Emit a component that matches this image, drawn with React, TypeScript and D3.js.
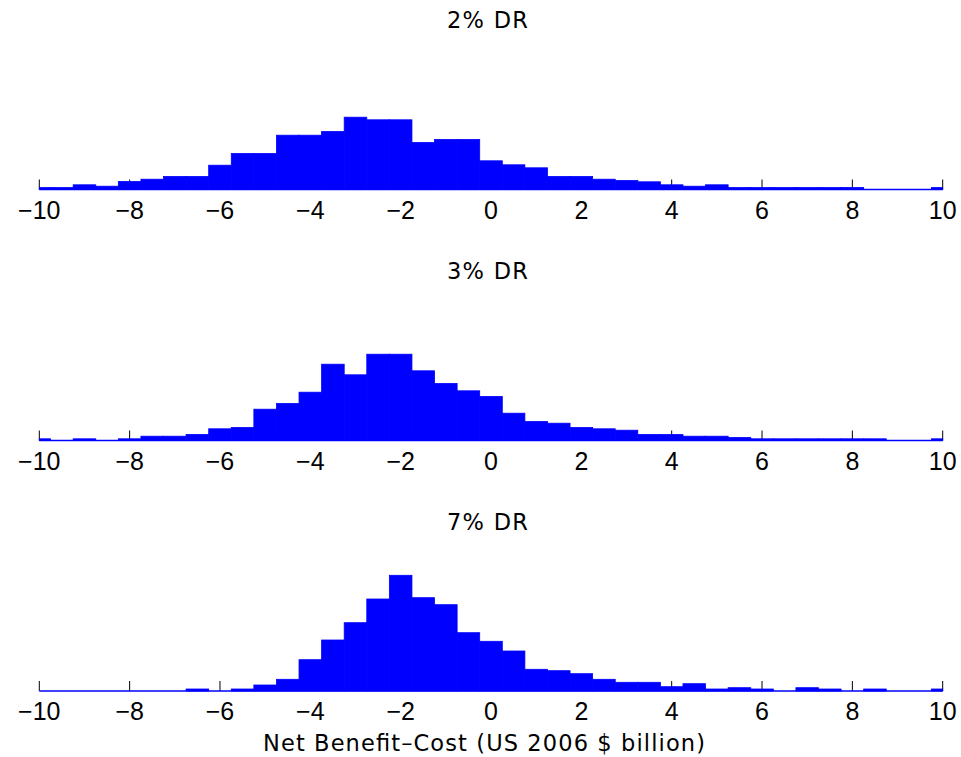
import React from 'react';
import * as d3 from 'd3';

const BIN_CENTERS = [
  -10, -9.5, -9, -8.5, -8, -7.5, -7, -6.5, -6, -5.5,
  -5, -4.5, -4, -3.5, -3, -2.5, -2, -1.5, -1, -0.5,
  0, 0.5, 1, 1.5, 2, 2.5, 3, 3.5, 4, 4.5,
  5, 5.5, 6, 6.5, 7, 7.5, 8, 8.5, 9, 9.5, 10,
];

const DR2_COUNTS = [
  2, 2, 4.7, 3.3, 8, 10.3, 13, 13, 24.3, 36,
  36, 54.3, 54.3, 58, 72.3, 69.7, 69.7, 47, 50, 50,
  28.7, 24.7, 21.7, 13, 13, 10.3, 9, 7.7, 4.7, 3.3,
  4.7, 2, 2, 2, 2, 2, 2, 0, 0, 0, 2,
];

const DR3_COUNTS = [
  1.7, 0, 1.7, 0, 1.7, 4.3, 4.3, 6, 11.7, 13,
  31.3, 37, 48.3, 76.3, 65.7, 86.3, 86.3, 69.7, 57, 49.7,
  44, 27.3, 19, 17.3, 13, 11.7, 10.3, 6, 6, 4.3,
  4.3, 3, 1.7, 1.7, 1.7, 1.7, 1.7, 1.7, 0, 0, 1.7,
];

const DR7_COUNTS = [
  0, 0, 0, 0, 0, 0, 0, 2, 0, 2,
  6, 11.7, 31.3, 51, 68.3, 92, 115.7, 93.3, 86.3, 58.3,
  49.7, 40, 21.7, 20.3, 17.3, 11.7, 8.7, 8.7, 4.3, 7.3,
  2, 3.3, 2, 0, 3.3, 2, 0, 2, 0, 0, 2,
];

const PANEL_TITLES = ['2% DR', '3% DR', '7% DR'];
const X_TICKS = [-10, -8, -6, -4, -2, 0, 2, 4, 6, 8, 10];
const X_LABEL = 'Net Benefit\u2013Cost (US 2006 $ billion)';

const SERIES = [DR2_COUNTS, DR3_COUNTS, DR7_COUNTS];

export default function App() {
  const W = 961;
  const H = 757;
  const BIN_HALF = 0.25;
  const x = d3.scaleLinear().domain([-10, 10]).range([39.3, 942.7]);
  const baselines = [189.5, 440.5, 691];
  const tickFont = '"Liberation Sans", Arial, sans-serif';
  const textFont = '"DejaVu Sans", Verdana, sans-serif';
  const fmt = (v: number) => (v < 0 ? '\u2212' + Math.abs(v) : String(v));

  return (
    <svg
      width={W}
      height={H}
      style={{ position: 'absolute', left: 0, top: 0, background: '#fff' }}
    >
      {SERIES.map((counts, pi) => {
        const b = baselines[pi];
        const y = d3.scaleLinear().domain([0, 120]).range([b, b - 120]);
        return (
          <g key={pi}>
            <text
              x={487.5}
              y={b - 161.5}
              textAnchor="middle"
              fontSize={22.5}
              fontFamily={textFont}
              fill="#000"
              textLength={81}
              lengthAdjust="spacing"
            >
              {PANEL_TITLES[pi]}
            </text>
            {X_TICKS.map((t) => (
              <line key={t} x1={x(t)} x2={x(t)} y1={b} y2={b - 10} stroke="#000" strokeWidth={1} />
            ))}
            {BIN_CENTERS.map((c, i) => {
              const v = counts[i];
              if (v <= 0) return null;
              const x0 = x(Math.max(c - BIN_HALF, -10));
              const x1 = x(Math.min(c + BIN_HALF, 10));
              return (
                <rect
                  key={i}
                  x={x0}
                  y={y(v)}
                  width={x1 - x0}
                  height={y(0) - y(v)}
                  fill="#0000ff"
                  stroke="#0000ff"
                  strokeWidth={0.8}
                />
              );
            })}
            <line x1={x(-10)} x2={x(10)} y1={b} y2={b} stroke="#0000ff" strokeWidth={1.5} />
            {X_TICKS.map((t) => (
              <text
                key={'l' + t}
                x={x(t)}
                y={b + 29}
                textAnchor="middle"
                fontSize={25}
                fontFamily={tickFont}
                fill="#000"
              >
                {fmt(t)}
              </text>
            ))}
          </g>
        );
      })}
      <text
        x={484}
        y={751}
        textAnchor="middle"
        fontSize={22.5}
        fontFamily={textFont}
        fill="#000"
        textLength={442}
        lengthAdjust="spacing"
      >
        {X_LABEL}
      </text>
    </svg>
  );
}
